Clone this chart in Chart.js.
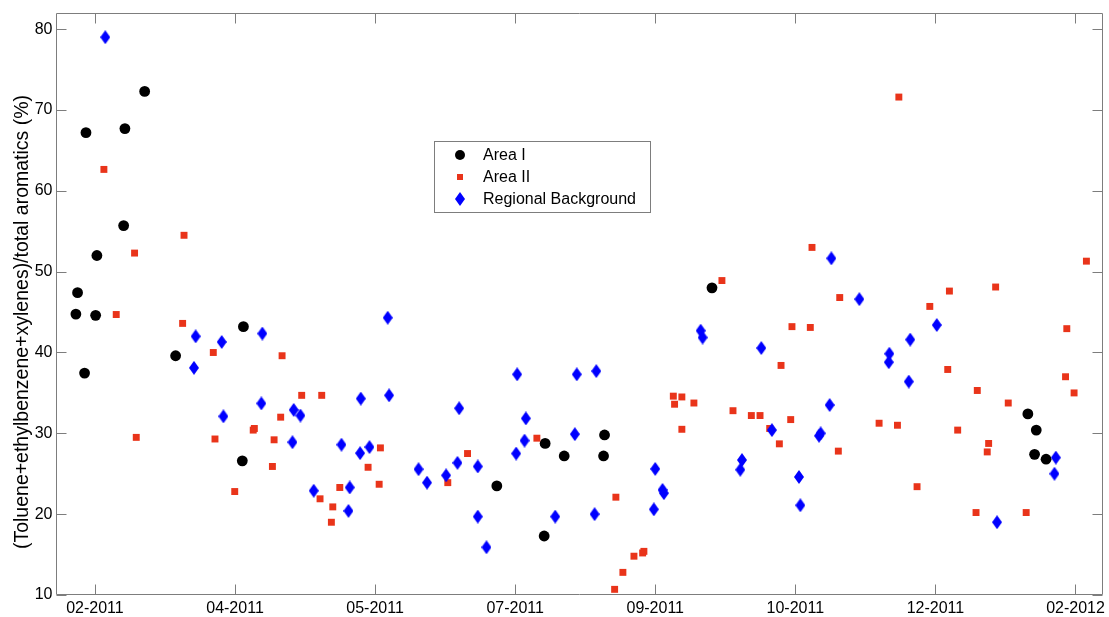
<!DOCTYPE html>
<html>
<head>
<meta charset="utf-8">
<script src="https://cdn.jsdelivr.net/npm/chart.js@4/dist/chart.umd.min.js"></script>
<style>html,body{margin:0;padding:0;background:#fff;overflow:hidden}canvas{display:block}</style>
</head>
<body>
<canvas id="c" width="1109" height="617"></canvas>
<script>
// ---- tick labels (x positions are in units of tick intervals) ----
const xTickLabels = ['02-2011','04-2011','05-2011','07-2011','09-2011','10-2011','12-2011','02-2012'];
const yTickValues = [10,20,30,40,50,60,70,80];
const yAxisTitle = '(Toluene+ethylbenzene+xylenes)/total aromatics (%)';

// ---- Area I ----
const areaI_x = [-0.136,-0.124,-0.074,-0.064,0.005,0.014,0.205,0.214,0.355,0.576,1.052,1.06,2.869,3.207,3.214,3.35,3.631,3.638,4.405,6.66,6.708,6.72,6.79];
const areaI_y = [44.75,47.4,37.45,67.2,44.6,52.0,55.7,67.7,72.3,39.6,26.6,43.2,23.5,17.3,28.75,27.2,27.2,29.8,48.0,32.4,27.4,30.4,26.8];

// ---- Area II ----
const areaII_x = [0.064,0.152,0.283,0.295,0.626,0.636,0.845,0.857,0.998,1.13,1.138,1.267,1.279,1.326,1.336,1.476,1.607,1.619,1.688,1.698,1.748,1.95,2.029,2.038,2.519,2.66,3.155,3.71,3.719,3.769,3.848,3.91,3.919,4.129,4.138,4.19,4.19,4.276,4.476,4.555,4.686,4.748,4.817,4.886,4.898,4.967,4.976,5.107,5.119,5.307,5.317,5.598,5.729,5.739,5.869,5.96,6.088,6.1,6.159,6.29,6.299,6.37,6.38,6.43,6.52,6.648,6.929,6.938,6.99,7.078];
const areaII_y = [62.65,44.7,52.3,29.5,43.6,54.5,40.0,29.3,22.8,30.4,30.6,25.9,29.2,32.0,39.6,34.7,21.9,34.7,19.0,20.9,23.3,25.8,23.7,28.2,23.9,27.5,29.4,10.7,22.1,12.8,14.8,15.2,15.4,34.6,33.6,34.5,30.5,33.75,48.9,32.8,32.2,32.2,30.6,28.7,38.4,31.7,43.2,43.1,53.0,27.8,46.8,31.25,31.0,71.6,23.4,45.7,37.9,47.6,30.4,20.2,35.3,27.7,28.75,48.1,33.75,20.2,37.0,42.95,35.0,51.3];

// ---- Regional Background ----
const regional_x = [0.074,0.707,0.719,0.905,0.917,1.188,1.195,1.41,1.419,1.467,1.562,1.76,1.81,1.819,1.893,1.898,1.96,2.09,2.1,2.31,2.371,2.507,2.588,2.6,2.733,2.733,2.795,3.007,3.014,3.067,3.076,3.286,3.426,3.44,3.567,3.579,3.99,4.0,4.052,4.062,4.324,4.338,4.607,4.619,4.757,4.833,5.026,5.036,5.169,5.181,5.245,5.257,5.457,5.667,5.671,5.81,5.82,6.01,6.44,6.85,6.86];
const regional_y = [79.0,38.1,42.0,41.3,32.1,33.7,42.35,28.9,32.9,32.2,22.9,28.6,20.4,23.3,27.55,34.3,28.3,44.3,34.7,25.56,23.9,24.8,26.35,33.1,25.9,19.7,15.9,27.5,37.3,29.1,31.85,19.7,29.9,37.3,20.0,37.7,20.6,25.6,23.0,22.6,42.7,41.85,25.5,26.7,40.55,30.4,24.6,21.1,29.7,30.0,33.5,51.65,46.6,38.8,39.85,36.4,41.6,43.4,19.0,25.0,27.0];

const FONT = "'Liberation Sans', Arial, Helvetica, sans-serif";
const AXIS_COLOR = '#7d7d7d';
const RED = '#e9341a';
const BLUE = '#0000ff';

function pts(xs, ys){ return xs.map((x,i)=>({x:x, y:ys[i]})); }

// elongated diamond marker
function makeDiamond(w, h, color){
  const c = document.createElement('canvas');
  c.width = w; c.height = h;
  const g = c.getContext('2d');
  g.fillStyle = color;
  g.beginPath();
  g.moveTo(w/2, 0); g.lineTo(w, h/2); g.lineTo(w/2, h); g.lineTo(0, h/2);
  g.closePath(); g.fill();
  return c;
}
const diamond = makeDiamond(10, 14, BLUE);

const boxPlugin = {
  id: 'matlabBox',
  beforeDatasetsDraw(chart){
    const {ctx, chartArea:a, scales} = chart;
    ctx.save();
    ctx.strokeStyle = AXIS_COLOR;
    ctx.lineWidth = 1;
    const L = Math.round(a.left)+0.5, R = Math.round(a.right)-0.5, T = Math.round(a.top)+0.5, B = Math.round(a.bottom)-0.5;
    ctx.beginPath();
    ctx.rect(L, T, R-L, B-T);
    const tl = 10;
    xTickLabels.forEach((lab,i)=>{
      const px = Math.round(scales.x.getPixelForValue(i))+0.5;
      ctx.moveTo(px, B); ctx.lineTo(px, B-tl);
      ctx.moveTo(px, T); ctx.lineTo(px, T+tl);
    });
    yTickValues.forEach(v=>{
      const py = Math.round(scales.y.getPixelForValue(v))+0.5;
      ctx.moveTo(L, py); ctx.lineTo(L+tl, py);
      ctx.moveTo(R, py); ctx.lineTo(R-tl, py);
    });
    ctx.stroke();
    // y-axis title (rotated), placed as in the reference figure
    ctx.fillStyle = '#000';
    ctx.font = '19.5px ' + FONT;
    ctx.textAlign = 'center';
    ctx.textBaseline = 'middle';
    ctx.translate(22.5, 322);
    ctx.rotate(-Math.PI/2);
    ctx.fillText(yAxisTitle, 0, 0);
    ctx.restore();
  }
};

const legendPlugin = {
  id: 'matlabLegend',
  afterDraw(chart){
    const {ctx} = chart;
    const bx = 434.5, by = 141.5, bw = 216, bh = 71;
    ctx.save();
    ctx.fillStyle = '#fff';
    ctx.fillRect(bx, by, bw, bh);
    ctx.strokeStyle = AXIS_COLOR;
    ctx.lineWidth = 1;
    ctx.strokeRect(bx, by, bw, bh);
    const rows = [155, 177, 199];
    const mx = 460, tx = 483;
    ctx.font = '16px ' + FONT;
    ctx.textBaseline = 'middle';
    ctx.textAlign = 'left';
    chart.data.datasets.forEach((ds, i)=>{
      const y = rows[i];
      if (ds.pointStyle === 'circle'){
        ctx.fillStyle = ds.backgroundColor;
        ctx.beginPath(); ctx.arc(mx, y, 5, 0, Math.PI*2); ctx.fill();
      } else if (ds.pointStyle === 'rect'){
        ctx.fillStyle = ds.backgroundColor;
        ctx.fillRect(mx-3, y-3, 6, 6);
      } else {
        ctx.drawImage(diamond, mx - diamond.width/2, y - diamond.height/2);
      }
      ctx.fillStyle = '#000';
      ctx.fillText(ds.label, tx, y+1);
    });
    ctx.restore();
  }
};

new Chart(document.getElementById('c'), {
  type: 'scatter',
  data: {
    datasets: [
      { label: 'Area I', data: pts(areaI_x, areaI_y), pointStyle: 'circle', pointRadius: 5.4, pointHoverRadius: 5.4,
        backgroundColor: '#000000', borderColor: '#000000', borderWidth: 0, order: 3 },
      { label: 'Area II', data: pts(areaII_x, areaII_y), pointStyle: 'rect', pointRadius: 4.9, pointHoverRadius: 4.9,
        backgroundColor: RED, borderColor: RED, borderWidth: 0, order: 2 },
      { label: 'Regional Background', data: pts(regional_x, regional_y), pointStyle: diamond, pointRadius: 6, pointHoverRadius: 6,
        backgroundColor: BLUE, borderColor: BLUE, borderWidth: 0, order: 1 }
    ]
  },
  options: {
    responsive: false,
    animation: false,
    devicePixelRatio: 1,
    clip: false,
    layout: { padding: { top: 13, right: 4.5, bottom: 0, left: 0 } },
    plugins: { legend: { display: false }, tooltip: { enabled: false } },
    scales: {
      x: {
        type: 'linear',
        min: -0.2815, max: 7.194,
        afterFit(s){ s.height = 22; },
        grid: { display: false, drawTicks: false },
        border: { display: false },
        ticks: {
          stepSize: 1, includeBounds: false, autoSkip: false, maxRotation: 0, padding: 4,
          color: '#000', font: { family: FONT, size: 16 },
          callback(v){ return Number.isInteger(v) && v >= 0 && v < xTickLabels.length ? xTickLabels[v] : ''; }
        }
      },
      y: {
        type: 'linear',
        min: 10, max: 82,
        afterFit(s){ s.width = 55.5; },
        grid: { display: false, drawTicks: false },
        border: { display: false },
        ticks: {
          stepSize: 10, includeBounds: false, padding: 3,
          color: '#000', font: { family: FONT, size: 16 },
          callback(v){ return yTickValues.includes(v) ? String(v) : ''; }
        },
        title: { display: false }
      }
    }
  },
  plugins: [boxPlugin, legendPlugin]
});
</script>
</body>
</html>
